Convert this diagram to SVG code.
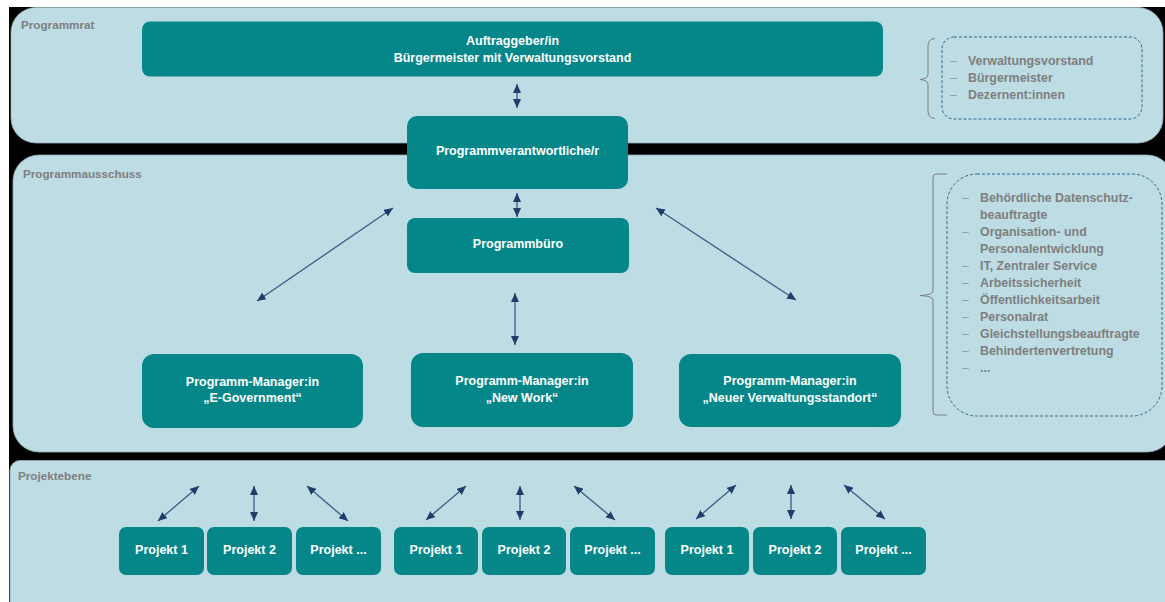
<svg xmlns="http://www.w3.org/2000/svg" width="1165" height="602" viewBox="0 0 1165 602">
<defs>
<style>
.panel{fill:#BDDCE4;stroke:#93AEB5;stroke-width:0.8}
.node{fill:#058789}
.nt{font-family:"Liberation Sans",Arial,sans-serif;font-weight:bold;font-size:12.5px;fill:#FFFFFF;text-anchor:middle}
.sec{font-family:"Liberation Sans",Arial,sans-serif;font-weight:bold;font-size:11.7px;fill:#7F7F7F}
.li{font-family:"Liberation Sans",Arial,sans-serif;font-weight:bold;font-size:12.4px;fill:#7F7F7F}
.dash{font-family:"Liberation Sans",Arial,sans-serif;font-size:12px;fill:#9A9A9A}
.dbox{fill:none;stroke:#2C6C8C;stroke-width:1;stroke-dasharray:3 2}
.brace{fill:none;stroke:#7F7F7F;stroke-width:1}
.arr{stroke:#3A5C84;stroke-width:1.3;fill:none;marker-start:url(#ah);marker-end:url(#ah)}
</style>
<marker id="ah" markerUnits="userSpaceOnUse" markerWidth="9" markerHeight="8" refX="9" refY="4" orient="auto-start-reverse">
<path d="M0,0 L9,4 L0,8 z" fill="#1F3D6B"/>
</marker>
</defs>
<rect x="0" y="0" width="1165" height="602" fill="#FFFFFF"/>
<rect x="9" y="7" width="1156" height="595" fill="#000000"/>

<g id="panel-programmrat">
<rect class="panel" x="11" y="7.5" width="1152" height="135.5" rx="25"/>
<text class="sec" x="21" y="29">Programmrat</text>
</g>
<g id="panel-programmausschuss">
<rect class="panel" x="13" y="155" width="1160" height="297" rx="26"/>
<text class="sec" x="23" y="178">Programmausschuss</text>
</g>
<g id="panel-projektebene">
<rect class="panel" x="10" y="460.5" width="1165" height="160" rx="10"/>
<text class="sec" x="18" y="480">Projektebene</text>
</g>

<g id="connectors">
<line class="arr" x1="517" y1="84" x2="517" y2="108"/>
<line class="arr" x1="517" y1="193" x2="517" y2="217"/>
<line class="arr" x1="515" y1="293" x2="515" y2="345"/>
<line class="arr" x1="257" y1="301" x2="393" y2="208"/>
<line class="arr" x1="656" y1="208" x2="796" y2="300"/>
<line class="arr" x1="158" y1="521" x2="199" y2="486"/>
<line class="arr" x1="254" y1="486" x2="254" y2="521"/>
<line class="arr" x1="307" y1="486" x2="348" y2="521"/>
<line class="arr" x1="426" y1="520" x2="466" y2="486"/>
<line class="arr" x1="520" y1="486" x2="520" y2="520"/>
<line class="arr" x1="574" y1="486" x2="615" y2="520"/>
<line class="arr" x1="696" y1="519" x2="736" y2="485"/>
<line class="arr" x1="791" y1="485" x2="791" y2="519"/>
<line class="arr" x1="844" y1="485" x2="885" y2="519"/>
</g>

<g id="node-auftraggeber">
<rect class="node" x="142" y="21.5" width="741" height="55" rx="8"/>
<text class="nt" x="512.5" y="45">Auftraggeber/in</text>
<text class="nt" x="512.5" y="62">Bürgermeister mit Verwaltungsvorstand</text>
</g>
<g id="node-programmverantwortliche">
<rect class="node" x="407" y="116" width="221" height="73" rx="10"/>
<text class="nt" x="517.5" y="155">Programmverantwortliche/r</text>
</g>
<g id="node-programmbuero">
<rect class="node" x="407" y="218" width="222" height="55" rx="8"/>
<text class="nt" x="518" y="248">Programmbüro</text>
</g>
<g id="node-pm-egov">
<rect class="node" x="142" y="354" width="221" height="74" rx="12"/>
<text class="nt" x="252.5" y="386">Programm-Manager:in</text>
<text class="nt" x="252.5" y="402">„E-Government“</text>
</g>
<g id="node-pm-newwork">
<rect class="node" x="411" y="353" width="222" height="74" rx="12"/>
<text class="nt" x="522" y="385">Programm-Manager:in</text>
<text class="nt" x="522" y="402">„New Work“</text>
</g>
<g id="node-pm-standort">
<rect class="node" x="679" y="354" width="222" height="73" rx="12"/>
<text class="nt" x="790" y="385">Programm-Manager:in</text>
<text class="nt" x="790" y="402">„Neuer Verwaltungsstandort“</text>
</g>

<g id="node-g1-p1"><rect class="node" x="119" y="527" width="85" height="48" rx="7"/><text class="nt" x="161.5" y="554">Projekt 1</text></g>
<g id="node-g1-p2"><rect class="node" x="207" y="527" width="85" height="48" rx="7"/><text class="nt" x="249.5" y="554">Projekt 2</text></g>
<g id="node-g1-p3"><rect class="node" x="296" y="527" width="85" height="48" rx="7"/><text class="nt" x="338.5" y="554">Projekt ...</text></g>
<g id="node-g2-p1"><rect class="node" x="394" y="527" width="84" height="48" rx="7"/><text class="nt" x="436" y="554">Projekt 1</text></g>
<g id="node-g2-p2"><rect class="node" x="482" y="527" width="84" height="48" rx="7"/><text class="nt" x="524" y="554">Projekt 2</text></g>
<g id="node-g2-p3"><rect class="node" x="570" y="527" width="85" height="48" rx="7"/><text class="nt" x="612.5" y="554">Projekt ...</text></g>
<g id="node-g3-p1"><rect class="node" x="665" y="527" width="84" height="48" rx="7"/><text class="nt" x="707" y="554">Projekt 1</text></g>
<g id="node-g3-p2"><rect class="node" x="753" y="527" width="84" height="48" rx="7"/><text class="nt" x="795" y="554">Projekt 2</text></g>
<g id="node-g3-p3"><rect class="node" x="841" y="527" width="85" height="48" rx="7"/><text class="nt" x="883.5" y="554">Projekt ...</text></g>

<g id="list-programmrat">
<path class="brace" d="M935,38.5 Q928,39 928,46 L928,74 Q928,79 920,79.5 Q928,80 928,85 L928,111 Q928,118 935,118.5"/>
<rect class="dbox" x="942" y="37" width="200" height="82" rx="12"/>
<text class="dash" x="950" y="65">–</text><text class="li" x="968" y="65">Verwaltungsvorstand</text>
<text class="dash" x="950" y="82">–</text><text class="li" x="968" y="82">Bürgermeister</text>
<text class="dash" x="950" y="99">–</text><text class="li" x="968" y="99">Dezernent:innen</text>
</g>
<g id="list-programmausschuss">
<path class="brace" d="M947,174 L936,174 Q933,174 933,178 L933,291 Q933,295 920,295.5 Q933,296 933,300 L933,411 Q933,415 936,415 L947,415"/>
<rect class="dbox" x="947" y="174" width="215" height="242" rx="30"/>
<text class="dash" x="962" y="202">–</text><text class="li" x="980" y="202">Behördliche Datenschutz-</text>
<text class="li" x="980" y="219">beauftragte</text>
<text class="dash" x="962" y="236">–</text><text class="li" x="980" y="236">Organisation- und</text>
<text class="li" x="980" y="253">Personalentwicklung</text>
<text class="dash" x="962" y="270">–</text><text class="li" x="980" y="270">IT, Zentraler Service</text>
<text class="dash" x="962" y="287">–</text><text class="li" x="980" y="287">Arbeitssicherheit</text>
<text class="dash" x="962" y="304">–</text><text class="li" x="980" y="304">Öffentlichkeitsarbeit</text>
<text class="dash" x="962" y="321">–</text><text class="li" x="980" y="321">Personalrat</text>
<text class="dash" x="962" y="338">–</text><text class="li" x="980" y="338">Gleichstellungsbeauftragte</text>
<text class="dash" x="962" y="355">–</text><text class="li" x="980" y="355">Behindertenvertretung</text>
<text class="dash" x="962" y="372">–</text><text class="li" x="980" y="372">...</text>
</g>
</svg>
